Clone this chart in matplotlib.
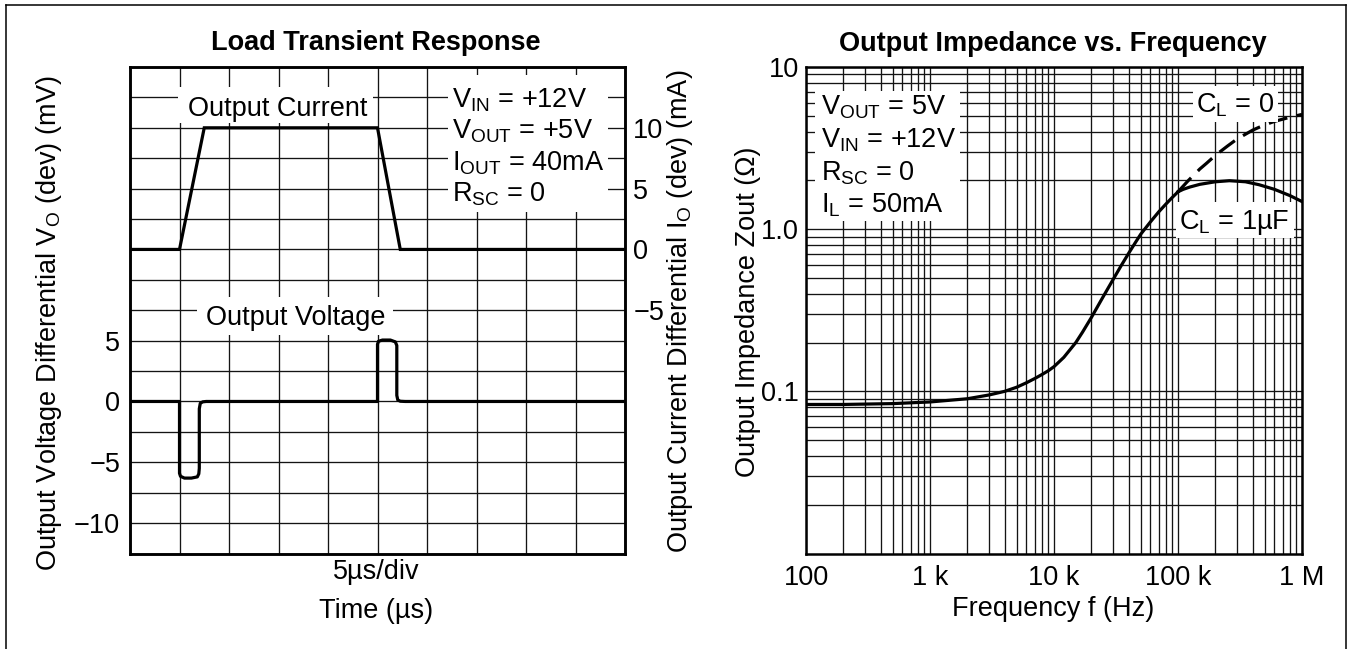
import numpy as np
import matplotlib
matplotlib.use("Agg")
import matplotlib.pyplot as plt
from matplotlib.patches import Rectangle
from matplotlib.lines import Line2D
from matplotlib.ticker import LogLocator, NullFormatter

plt.rcParams['font.family'] = ['Liberation Sans', 'DejaVu Sans']
plt.rcParams['mathtext.fontset'] = 'custom'
plt.rcParams['mathtext.rm'] = 'Liberation Sans'
plt.rcParams['mathtext.it'] = 'Liberation Sans:italic'
plt.rcParams['mathtext.bf'] = 'Liberation Sans:bold'

# ---------------- data ----------------
# Load transient response (time in microseconds)
current_time = [0, 5.0, 7.5, 25.0, 27.3, 50]
current_ma = [0, 0, 10, 10, 0, 0]

voltage_time = [0, 5.0, 5.0, 5.1, 5.5, 6.2, 6.8, 6.95, 7.0, 7.0, 7.1, 7.35, 7.7,
                25.0, 25.0, 25.1, 25.5, 26.3, 26.8, 26.95, 26.95, 27.05, 27.3, 27.8, 50]
voltage_mv = [0, 0, -5.9, -6.15, -6.3, -6.3, -6.2, -5.95, -5.5, -0.6, -0.15, -0.03, 0,
              0, 4.7, 4.95, 5.05, 5.05, 4.9, 4.6, 0.5, 0.12, 0.02, 0, 0]

volt_ticks = [-10, -5, 0, 5]
curr_ticks = [-5, 0, 5, 10]

# Output impedance vs frequency (common part, both load capacitances)
imp_freq = [100, 200, 500, 1000, 2000, 3000, 4000, 5000, 6000, 7000, 8000, 9000,
            10000, 12000, 15000, 17000, 20000, 25000, 30000, 35000, 40000, 45000,
            50000, 60000, 70000, 80000, 90000, 100000]
imp_z = [0.083, 0.083, 0.084, 0.086, 0.090, 0.095, 0.100, 0.106, 0.113, 0.120, 0.127,
         0.134, 0.142, 0.162, 0.200, 0.232, 0.285, 0.385, 0.49, 0.60, 0.71, 0.82,
         0.93, 1.11, 1.28, 1.43, 1.57, 1.70]

# C_L = 1 uF branch
cl1u_freq = [100000, 110000, 125000, 150000, 200000, 260000, 350000, 450000,
             600000, 800000, 1000000]
cl1u_z = [1.70, 1.76, 1.82, 1.89, 1.96, 1.99, 1.96, 1.88, 1.76, 1.61, 1.48]

# C_L = 0 branch (dashed)
cl0_freq = [100000, 120000, 150000, 170000, 200000, 250000, 300000, 400000,
            500000, 600000, 800000, 1000000]
cl0_z = [1.70, 1.98, 2.35, 2.55, 2.85, 3.25, 3.6, 4.08, 4.4, 4.62, 4.9, 5.1]

freq_ticks = [1e2, 1e3, 1e4, 1e5, 1e6]
freq_labels = ['100', '1 k', '10 k', '100 k', '1 M']
z_ticks = [0.1, 1.0, 10]
z_labels = ['0.1', '1.0', '10']

# ---------------- layout ----------------
W, H = 1348, 649
FS = 19.5
fig = plt.figure(figsize=(W / 100, H / 100), dpi=100)


def fx(x):
    return x / W


def fy(y):
    return 1 - y / H


X0L, X1L, X0R, X1R, YT, YB = 130, 625, 806, 1302, 67, 553.5
axL = fig.add_axes([fx(X0L), fy(YB), (X1L - X0L) / W, (YB - YT) / H])
axR = fig.add_axes([fx(X0R), fy(YB), (X1R - X0R) / W, (YB - YT) / H])

GRID = dict(color='0.08', lw=0.95)
LW = 2.3

# ---- left: load transient ----
axL.set_xlim(0, 50)
axL.set_ylim(-12.5, 27.5)
axL.set_xticks(np.arange(0, 51, 5))
axL.set_xticklabels([])
axL.set_yticks(volt_ticks)
axL.set_yticks(np.arange(-12.5, 27.6, 2.5), minor=True)
axL.grid(True, which='both', **GRID)
axL.tick_params(which='both', length=0)
axL.tick_params(axis='y', labelsize=FS, pad=7)
axL.plot(voltage_time, voltage_mv, color='black', lw=LW, solid_joinstyle='round')

axI = axL.twinx()
axI.set_ylim(-25, 15)
axI.set_yticks(curr_ticks)
axI.tick_params(length=0, labelsize=FS, pad=6)
axI.plot(current_time, current_ma, color='black', lw=LW, solid_joinstyle='miter')
for a in (axL, axI, axR):
    for s in a.spines.values():
        s.set_linewidth(1.8)


def pax(ax, x0, x1, x, y):
    return (x - x0) / (x1 - x0), (YB - y) / (YB - YT)


def white_box(ax, x0, x1, bx0, by0, bx1, by1):
    ax_x0, ax_y1 = pax(ax, x0, x1, bx0, by0)
    ax_x1, ax_y0 = pax(ax, x0, x1, bx1, by1)
    ax.add_patch(Rectangle((ax_x0, ax_y0), ax_x1 - ax_x0, ax_y1 - ax_y0,
                           transform=ax.transAxes, fc='white', ec='none', zorder=2.6))


def ptext(ax, x0, x1, x, yc, s, ha='left', size=FS):
    px, py = pax(ax, x0, x1, x, yc + 0.358 * size * 100 / 72)
    ax.text(px, py, s, transform=ax.transAxes, ha=ha, va='baseline', size=size, zorder=3)


# labels with white backgrounds
white_box(axI, X0L, X1L, 178, 87, 373, 123)
ptext(axI, X0L, X1L, 278, 106, 'Output Current', ha='center')
white_box(axI, X0L, X1L, 197, 297, 393, 335)
ptext(axI, X0L, X1L, 296, 315, 'Output Voltage', ha='center')

white_box(axI, X0L, X1L, 448, 75, 608, 212)
cond_left = [r'V$_{\mathrm{IN}}$ = +12V', r'V$_{\mathrm{OUT}}$ = +5V',
             r'I$_{\mathrm{OUT}}$ = 40mA', r'R$_{\mathrm{SC}}$ = 0']
for i, s in enumerate(cond_left):
    ptext(axI, X0L, X1L, 452, 98 + i * 31.3, s)

fig.text(fx(376), fy(43), 'Load Transient Response', ha='center', va='center',
         size=FS, weight='bold')
fig.text(fx(376), fy(572), '5µs/div', ha='center', va='center', size=FS)
fig.text(fx(376), fy(611), 'Time (µs)', ha='center', va='center', size=FS)
fig.text(fx(49), fy(323), r'Output Voltage Differential V$_{\mathrm{O}}$ (dev) (mV)',
         rotation=90, ha='center', va='center', size=FS)
fig.text(fx(680), fy(311), r'Output Current Differential I$_{\mathrm{O}}$ (dev) (mA)',
         rotation=90, ha='center', va='center', size=FS)

# ---- right: impedance ----
axR.set_xscale('log')
axR.set_yscale('log')
axR.set_xlim(100, 1e6)
axR.set_ylim(0.01, 10)
axR.set_xticks(freq_ticks, labels=freq_labels)
axR.set_yticks(z_ticks, labels=z_labels)
axR.xaxis.set_minor_locator(LogLocator(base=10, subs=np.arange(2, 10), numticks=30))
axR.yaxis.set_minor_locator(LogLocator(base=10, subs=np.arange(2, 10), numticks=30))
axR.xaxis.set_minor_formatter(NullFormatter())
axR.yaxis.set_minor_formatter(NullFormatter())
axR.grid(True, which='both', **GRID)
axR.tick_params(which='both', length=0, labelsize=FS)
axR.tick_params(axis='x', pad=8)
axR.tick_params(axis='y', pad=5)

axR.plot(imp_freq, imp_z, color='black', lw=LW, solid_joinstyle='round')
axR.plot(cl1u_freq, cl1u_z, color='black', lw=LW, solid_joinstyle='round')
axR.plot(cl0_freq, cl0_z, color='black', lw=LW, dashes=(6, 3))

white_box(axR, X0R, X1R, 815, 91, 960, 221)
cond_right = [r'V$_{\mathrm{OUT}}$ = 5V', r'V$_{\mathrm{IN}}$ = +12V',
              r'R$_{\mathrm{SC}}$ = 0', r'I$_{\mathrm{L}}$ = 50mA']
for i, s in enumerate(cond_right):
    ptext(axR, X0R, X1R, 821, 105 + i * 32.7, s)

white_box(axR, X0R, X1R, 1193, 86, 1278, 122)
ptext(axR, X0R, X1R, 1235, 103, r'C$_{\mathrm{L}}$ = 0', ha='center')
white_box(axR, X0R, X1R, 1176, 202, 1294, 238)
ptext(axR, X0R, X1R, 1234, 219, r'C$_{\mathrm{L}}$ = 1µF', ha='center')

fig.text(fx(1053), fy(44), 'Output Impedance vs. Frequency', ha='center', va='center',
         size=FS, weight='bold')
fig.text(fx(1053), fy(609), 'Frequency f (Hz)', ha='center', va='center', size=FS)
fig.text(fx(748), fy(312), 'Output Impedance Zout (Ω)', rotation=90,
         ha='center', va='center', size=FS)

# outer frame
fr = dict(color='black', lw=1.1, transform=fig.transFigure)
fig.add_artist(Line2D([fx(6), fx(6)], [fy(5), 0], **fr))
fig.add_artist(Line2D([fx(6), fx(1346)], [fy(5), fy(5)], **fr))
fig.add_artist(Line2D([fx(1346), fx(1346)], [fy(5), 0], **fr))

fig.savefig('out.png', dpi=100)
